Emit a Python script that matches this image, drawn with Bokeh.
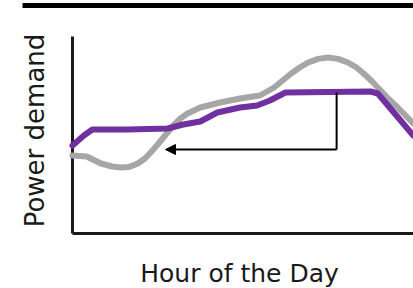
from bokeh.plotting import figure
from bokeh.models import Range1d, Arrow, NormalHead
from bokeh.core.properties import value
from bokeh.embed import file_html
from bokeh.resources import INLINE
import math

# Demand before load shifting (gray), hour of day vs. power demand
gray_hours = [0, 1.0, 2.0, 2.8, 3.4, 4.0, 4.6, 5.1, 5.5, 6.0, 6.4, 7.1, 7.6, 8.1, 9.0,
              10.4, 11.8, 13.2, 13.7, 14.2, 14.8, 15.4, 16.0, 16.6, 17.3, 18.0, 18.7,
              19.4, 20.0, 20.5, 21.1, 21.7, 22.3, 22.9, 24.0]
gray_demand = [39, 38.5, 35, 33.5, 33, 33.3, 35, 37.5, 40.5, 44.5, 48, 54, 57.5, 60, 63,
               65.5, 67.5, 69, 71, 73, 76.5, 80, 83, 85.5, 87.3, 88, 87.3,
               85.5, 83, 80, 76, 71.5, 67, 63, 55]

# Demand after load shifting (purple)
purple_hours = [0, 0.8, 1.4, 3.9, 6.7, 7.8, 9.0, 10.2, 11.8, 13.0, 13.9, 15.0, 21.0, 21.5, 24.0]
purple_demand = [44, 49, 52, 52, 52.5, 54.5, 56, 60.5, 63, 64, 66.5, 70.5, 71, 70, 49]

# Shift arrow: from peak hour back to morning
arrow_from_hour = 18.6
arrow_to_hour = 6.55
arrow_level = 42
arrow_top = 70.5

x_label = "Hour of the Day"
y_label = "Power demand"

p = figure(width=413, height=288, output_backend="svg", toolbar_location=None,
           x_range=Range1d(-5.070, 24.014), y_range=Range1d(-27.5, 116.5),
           min_border=0, min_border_left=0, min_border_right=0,
           min_border_top=0, min_border_bottom=0)
p.xaxis.visible = False
p.yaxis.visible = False
p.grid.visible = False
p.outline_line_color = None
p.background_fill_color = "white"
p.border_fill_color = "white"

# top rule
p.segment(x0=[-3.52], y0=[114], x1=[24.5], y1=[114], line_color="black", line_width=5)

# axes
p.segment(x0=[0], y0=[0], x1=[0], y1=[98.5], line_color="#1a1a1a", line_width=3)
p.segment(x0=[0], y0=[0], x1=[24.5], y1=[0], line_color="#1a1a1a", line_width=3)

p.line(gray_hours, gray_demand, line_color="#a6a6a6", line_width=6,
       line_join="round", line_cap="round")
p.line(purple_hours, purple_demand, line_color="#7030a0", line_width=6,
       line_join="round", line_cap="round")

p.segment(x0=[arrow_from_hour], y0=[arrow_top], x1=[arrow_from_hour], y1=[arrow_level],
          line_color="black", line_width=2)
p.add_layout(Arrow(end=NormalHead(size=10, fill_color="black", line_color="black"),
                   x_start=arrow_from_hour, y_start=arrow_level,
                   x_end=arrow_to_hour, y_end=arrow_level,
                   line_color="black", line_width=2))

p.text(x=[11.76], y=[-20], text=[x_label], text_font=value("DejaVu Sans"),
       text_font_size="25px", text_align="center", text_baseline="middle",
       text_color="#1a1a1a")
p.text(x=[-2.61], y=[51.5], text=[y_label], text_font=value("DejaVu Sans"),
       text_font_size="26px", text_align="center", text_baseline="middle",
       text_color="#1a1a1a", angle=math.pi / 2)

open("out.html", "w").write(file_html(p, INLINE))
